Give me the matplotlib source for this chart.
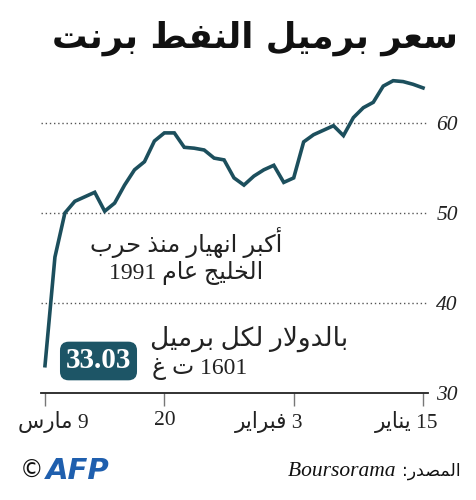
import re
import numpy as np
import pandas as pd
import matplotlib
matplotlib.use("Agg")
import matplotlib.pyplot as plt
import matplotlib.transforms as mtransforms

# ---------------- data ----------------
dates = pd.bdate_range("2020-01-15", "2020-03-09")
prices = [63.9, 64.3, 64.6, 64.7, 64.1, 62.3, 61.7, 60.6, 58.6, 59.7,
          59.2, 58.7, 57.9, 53.9, 53.4, 55.3, 54.8, 54.1, 53.1, 53.9,
          55.9, 56.1, 57.0, 57.2, 57.3, 58.9, 58.9, 58.0, 55.7, 54.8,
          53.1, 51.1, 50.2, 52.3, 51.8, 51.3, 50.0, 45.1, 33.03]
tick_dates = ["2020-01-15", "2020-02-03", "2020-02-20", "2020-03-09"]
tick_labels = ["15 يناير", "3 فبراير", "20", "9 مارس"]
y_ticks = [30, 40, 50, 60]

title = "سعر برميل النفط برنت"
note1 = ["أكبر انهيار منذ حرب", "الخليج عام 1991"]
note2 = ["بالدولار لكل برميل", "1601 ت غ"]
source_ar = "المصدر:"
source_lat = "Boursorama"

# ---------------- Arabic shaping (no HarfBuzz in matplotlib) ----------------
FORMS = {
    'ا': (0xFE8D, 0xFE8E, None, None), 'أ': (0xFE83, 0xFE84, None, None),
    'إ': (0xFE87, 0xFE88, None, None), 'آ': (0xFE81, 0xFE82, None, None),
    'ب': (0xFE8F, 0xFE90, 0xFE91, 0xFE92), 'ت': (0xFE95, 0xFE96, 0xFE97, 0xFE98),
    'ج': (0xFE9D, 0xFE9E, 0xFE9F, 0xFEA0), 'ح': (0xFEA1, 0xFEA2, 0xFEA3, 0xFEA4),
    'خ': (0xFEA5, 0xFEA6, 0xFEA7, 0xFEA8), 'د': (0xFEA9, 0xFEAA, None, None),
    'ذ': (0xFEAB, 0xFEAC, None, None), 'ر': (0xFEAD, 0xFEAE, None, None),
    'ز': (0xFEAF, 0xFEB0, None, None), 'س': (0xFEB1, 0xFEB2, 0xFEB3, 0xFEB4),
    'ش': (0xFEB5, 0xFEB6, 0xFEB7, 0xFEB8), 'ص': (0xFEB9, 0xFEBA, 0xFEBB, 0xFEBC),
    'ط': (0xFEC1, 0xFEC2, 0xFEC3, 0xFEC4), 'ع': (0xFEC9, 0xFECA, 0xFECB, 0xFECC),
    'غ': (0xFECD, 0xFECE, 0xFECF, 0xFED0), 'ف': (0xFED1, 0xFED2, 0xFED3, 0xFED4),
    'ق': (0xFED5, 0xFED6, 0xFED7, 0xFED8), 'ك': (0xFED9, 0xFEDA, 0xFEDB, 0xFEDC),
    'ل': (0xFEDD, 0xFEDE, 0xFEDF, 0xFEE0), 'م': (0xFEE1, 0xFEE2, 0xFEE3, 0xFEE4),
    'ن': (0xFEE5, 0xFEE6, 0xFEE7, 0xFEE8), 'ه': (0xFEE9, 0xFEEA, 0xFEEB, 0xFEEC),
    'و': (0xFEED, 0xFEEE, None, None), 'ي': (0xFEF1, 0xFEF2, 0xFEF3, 0xFEF4),
}
LAMALEF = {'ا': (0xFEFB, 0xFEFC), 'أ': (0xFEF7, 0xFEF8),
           'إ': (0xFEF9, 0xFEFA), 'آ': (0xFEF5, 0xFEF6)}


def shape(s):
    toks = []
    i = 0
    while i < len(s):
        if s[i] == 'ل' and i + 1 < len(s) and s[i + 1] in LAMALEF:
            toks.append(('LA', s[i + 1]))
            i += 2
        else:
            toks.append(('C', s[i]))
            i += 1

    def is_ar(t):
        return t[0] == 'LA' or t[1] in FORMS

    def joins_next(t):
        return t[0] == 'C' and t[1] in FORMS and FORMS[t[1]][2] is not None

    out = []
    n = len(toks)
    for k, t in enumerate(toks):
        prev = k > 0 and joins_next(toks[k - 1]) and is_ar(t)
        nxt = k < n - 1 and joins_next(t) and is_ar(toks[k + 1])
        if t[0] == 'LA':
            out.append(chr(LAMALEF[t[1]][1 if prev else 0]))
        elif t[1] in FORMS:
            f = FORMS[t[1]]
            if prev and nxt:
                g = f[3]
            elif prev:
                g = f[1]
            elif nxt:
                g = f[2]
            else:
                g = f[0]
            out.append(chr(g))
        else:
            out.append(t[1])
    return ''.join(out)


def vis(text):
    s = shape(text)
    runs = re.findall(r'[0-9A-Za-z.]+|[^0-9A-Za-z.]+', s)
    out = []
    for r in reversed(runs):
        if re.match(r'[0-9A-Za-z.]', r):
            out.append(r)
        else:
            out.append(r[::-1])
    return ''.join(out)


# ---------------- figure ----------------
W, H = 476, 500
fig = plt.figure(figsize=(W / 100, H / 100), dpi=100)
fig.patch.set_facecolor("white")

AR = ["DejaVu Sans"]
SERIF_AR = ["Liberation Serif", "DejaVu Sans"]
LINE = "#1c4f5d"
TXT = "#222222"


def fx(px):
    return px / W


def fy(py):
    return 1 - py / H


x_left, x_right = 41, 428
y_bottom, y_top = 393, 60
ax = fig.add_axes([fx(x_left), fy(y_bottom), fx(x_right) - fx(x_left), fy(y_top) - fy(y_bottom)])

xi = np.arange(len(prices))
ax.plot(xi, prices, color=LINE, lw=2.6, solid_joinstyle="miter", zorder=3, clip_on=False)
ax.set_xlim(38.4, -0.5)
ax.set_ylim(30, 67)

for v in y_ticks[1:]:
    ax.axhline(v, color="#555555", lw=1.0, ls=(0, (1, 2)), zorder=1)

for s in ["top", "left", "right"]:
    ax.spines[s].set_visible(False)
ax.spines["bottom"].set_color("#222222")
ax.spines["bottom"].set_linewidth(1.3)

ax.yaxis.tick_right()
ax.set_yticks(y_ticks)
ax.set_yticklabels([str(v) for v in y_ticks], family="Liberation Serif", style="italic",
                   fontsize=15.5, color=TXT)
ax.tick_params(axis="y", length=0, pad=6)

pos = [dates.get_loc(pd.Timestamp(d)) for d in tick_dates]
ax.set_xticks(pos)
ax.set_xticklabels([vis(t) for t in tick_labels], family=SERIF_AR, fontsize=15.5, color=TXT)
ax.tick_params(axis="x", length=9, width=1.0, color="#777777", pad=4)
offsets = [-16, -25, 0, 8]
for lab, off in zip(ax.get_xticklabels(), offsets):
    lab.set_transform(lab.get_transform() + mtransforms.ScaledTranslation(off / 100, 0, fig.dpi_scale_trans))

# title
fig.text(fx(458), fy(38), vis(title), family=AR, fontweight="bold", fontsize=25.5,
         ha="right", va="center", color="#111111")

# annotation 1
fig.text(fx(186), fy(243), vis(note1[0]), family=SERIF_AR, fontsize=17.5, ha="center", va="center", color=TXT)
fig.text(fx(186), fy(273), vis(note1[1]), family=SERIF_AR, fontsize=17, ha="center", va="center", color=TXT)

# value box
fig.text(fx(98.5), fy(361), f"{prices[-1]:.2f}", family="Liberation Serif", fontweight="bold",
         fontsize=21, color="white", ha="center", va="center",
         bbox=dict(boxstyle="round,pad=0.2,rounding_size=0.3", fc="#1d5566", ec="none"))
fig.text(fx(150), fy(339), vis(note2[0]), family=SERIF_AR, fontsize=19, ha="left", va="center", color=TXT)
fig.text(fx(152), fy(369), vis(note2[1]), family=SERIF_AR, fontsize=17, ha="left", va="center", color=TXT)

# footer
t_ar = fig.text(fx(461), fy(471), vis(source_ar), family=AR, fontsize=12.5, ha="right", va="center", color="#111111")
fig.text(fx(20), fy(471), "©", family="DejaVu Sans", fontsize=17, ha="left", va="center", color="#111111")
fig.text(fx(46), fy(471), "AFP", family="DejaVu Sans", fontweight="heavy", style="italic",
         fontsize=21, ha="left", va="center", color="#1f5fae")
fig.canvas.draw()
bb = t_ar.get_window_extent()
fig.text(fx(bb.x0 - 2), fy(471), source_lat + " ", family="Liberation Serif", style="italic",
         fontsize=15.5, ha="right", va="center", color="#111111")

fig.savefig("out.png", dpi=100, facecolor="white")
